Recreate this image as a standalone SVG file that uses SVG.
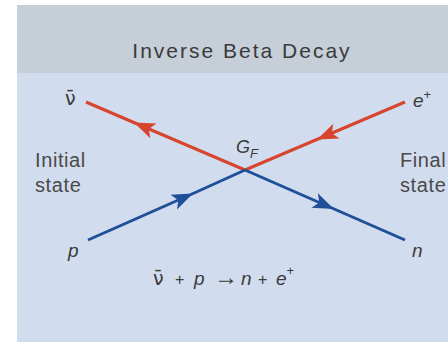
<svg xmlns="http://www.w3.org/2000/svg" width="448" height="343" viewBox="0 0 448 343">
  <style>
    .lbl { font-family: "Liberation Sans", Arial, sans-serif; fill: #3a3a3a; }
    .nu { font-family: "DejaVu Sans", "Liberation Sans", sans-serif; }
    .side { font-size: 20px; letter-spacing: 0.6px; fill: #4a4a4a; }
    .it { font-style: italic; }
    .red { stroke: #d8452e; stroke-width: 3; fill: none; }
    .blue { stroke: #1f4f98; stroke-width: 3; fill: none; }
  </style>
  <defs>
    <marker id="ahRed" markerUnits="userSpaceOnUse" viewBox="-22 -10 24 20" refX="0" refY="0" markerWidth="24" markerHeight="20" orient="auto">
      <path d="M1,0 L-20,-8 L-15,0 L-20,8 Z" fill="#d8452e"/>
    </marker>
    <marker id="ahBlue" markerUnits="userSpaceOnUse" viewBox="-22 -10 24 20" refX="0" refY="0" markerWidth="24" markerHeight="20" orient="auto">
      <path d="M1,0 L-20,-8 L-15,0 L-20,8 Z" fill="#1f4f98"/>
    </marker>
  </defs>
  <rect x="0" y="0" width="448" height="343" fill="#ffffff"/>
  <rect x="17" y="5" width="431" height="337" fill="#d1dcee"/>
  <rect x="17" y="5" width="431" height="68" fill="#c6ced8"/>

  <g id="title">
    <text class="lbl" x="242" y="58" font-size="21" letter-spacing="2" text-anchor="middle" fill="#555555">Inverse Beta Decay</text>
  </g>

  <g id="connectors">
    <path class="red" d="M245,170 L135,123 L86,102" marker-mid="url(#ahRed)"/>
    <path class="red" d="M405,102 L318,139 L245,170" marker-mid="url(#ahRed)"/>
    <path class="blue" d="M88,240 L192,194 L245,170" marker-mid="url(#ahBlue)"/>
    <path class="blue" d="M245,170 L333,208.5 L405,240" marker-mid="url(#ahBlue)"/>
  </g>

  <g id="antineutrino">
    <text class="lbl nu" x="65" y="105" font-size="19">ν̄</text>
  </g>
  <g id="positron">
    <text class="lbl it" x="413" y="107" font-size="19">e<tspan font-size="13" dy="-8" font-style="normal">+</tspan></text>
  </g>
  <g id="proton">
    <text class="lbl it" x="68" y="257" font-size="19">p</text>
  </g>
  <g id="neutron">
    <text class="lbl it" x="412" y="257" font-size="19">n</text>
  </g>
  <g id="vertex">
    <text class="lbl it" x="236" y="153" font-size="18">G<tspan font-size="13" dy="5">F</tspan></text>
  </g>
  <g id="initial-state">
    <text class="lbl side" x="35" y="167">Initial</text>
    <text class="lbl side" x="35" y="192">state</text>
  </g>
  <g id="final-state">
    <text class="lbl side" x="400" y="167">Final</text>
    <text class="lbl side" x="400" y="192">state</text>
  </g>
  <g id="equation">
    <text class="lbl" y="285" font-size="19"><tspan class="nu" x="153">ν̄</tspan><tspan x="175" font-size="16">+</tspan><tspan x="194" font-style="italic">p</tspan><tspan x="214" font-size="24">→</tspan><tspan x="241" font-style="italic">n</tspan><tspan x="258" font-size="16">+</tspan><tspan x="276" font-style="italic">e</tspan><tspan font-size="13" dy="-10">+</tspan></text>
  </g>
</svg>
